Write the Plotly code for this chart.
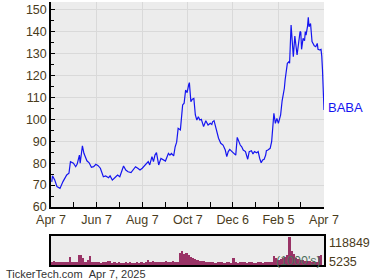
import plotly.graph_objects as go

# ---- data ----
price_dates = [
 "2024-04-08","2024-04-09","2024-04-12","2024-04-15","2024-04-19","2024-04-23","2024-04-28","2024-05-01",
 "2024-05-03","2024-05-07","2024-05-10","2024-05-12","2024-05-15","2024-05-16","2024-05-19","2024-05-21",
 "2024-05-25","2024-05-28","2024-05-31","2024-06-03","2024-06-06","2024-06-09","2024-06-12","2024-06-16",
 "2024-06-19","2024-06-23","2024-06-25","2024-06-28","2024-07-02","2024-07-05","2024-07-08","2024-07-13",
 "2024-07-16","2024-07-19","2024-07-23","2024-07-26","2024-07-29","2024-08-01","2024-08-04","2024-08-07",
 "2024-08-11","2024-08-13","2024-08-15","2024-08-17","2024-08-20","2024-08-22","2024-08-24","2024-08-26",
 "2024-08-29","2024-09-01","2024-09-04","2024-09-07","2024-09-11","2024-09-13","2024-09-15","2024-09-18",
 "2024-09-20","2024-09-22","2024-09-24","2024-09-27","2024-09-30","2024-10-02","2024-10-04","2024-10-06",
 "2024-10-08","2024-10-09","2024-10-11","2024-10-13","2024-10-15","2024-10-17","2024-10-19","2024-10-21",
 "2024-10-23","2024-10-25","2024-10-28","2024-10-31","2024-11-03","2024-11-06","2024-11-08","2024-11-09",
 "2024-11-11","2024-11-13","2024-11-15","2024-11-17","2024-11-20","2024-11-23","2024-11-26","2024-11-28",
 "2024-11-30","2024-12-02","2024-12-05","2024-12-08","2024-12-10","2024-12-12","2024-12-14","2024-12-16",
 "2024-12-18","2024-12-20","2024-12-23","2024-12-25","2024-12-26","2024-12-28","2024-12-31","2025-01-02",
 "2025-01-04","2025-01-07","2025-01-09","2025-01-11","2025-01-13","2025-01-15","2025-01-17","2025-01-19",
 "2025-01-20","2025-01-22","2025-01-25","2025-01-27","2025-01-28","2025-01-30","2025-02-01","2025-02-03",
 "2025-02-05","2025-02-06","2025-02-08","2025-02-10","2025-02-12","2025-02-13","2025-02-14","2025-02-15",
 "2025-02-17","2025-02-19","2025-02-20","2025-02-22","2025-02-24","2025-02-25","2025-02-27","2025-03-01",
 "2025-03-02","2025-03-04","2025-03-06","2025-03-07","2025-03-08","2025-03-10","2025-03-12","2025-03-13",
 "2025-03-14","2025-03-16","2025-03-17","2025-03-18","2025-03-20","2025-03-22","2025-03-23","2025-03-25",
 "2025-03-27","2025-03-29","2025-03-30","2025-04-01","2025-04-03","2025-04-04","2025-04-05","2025-04-07",
]
price_values = [
 71.5,74.2,72.3,69.3,68.5,71.6,74.6,75.4,
 80.7,80.0,78.4,79.6,83.7,80.0,87.9,84.5,
 81.1,80.2,78.1,78.4,79.5,78.9,77.7,73.8,
 74.2,73.4,74.2,72.3,73.6,74.6,73.8,78.7,
 76.9,76.1,75.7,76.9,78.4,77.7,76.9,77.7,
 79.2,80.0,80.7,79.2,83.0,80.7,83.7,84.8,
 79.2,82.2,81.5,81.0,84.5,83.7,84.5,83.3,
 87.5,89.6,95.9,95.2,106.6,107.4,113.4,112.2,
 115.7,116.8,108.1,109.2,109.6,102.0,99.7,101.2,
 99.7,100.0,96.7,99.4,97.4,98.2,97.7,98.9,
 99.4,96.7,92.9,91.4,89.1,88.3,86.0,83.0,
 85.3,86.3,85.3,84.5,83.7,91.8,89.8,88.3,
 87.5,86.0,85.3,83.3,81.8,85.3,85.7,84.2,
 85.3,84.8,85.3,82.2,80.2,81.5,81.8,83.7,
 85.7,86.0,86.8,89.8,95.2,102.8,98.2,100.5,
 98.2,100.0,102.0,108.5,111.9,114.2,118.0,121.0,
 125.6,126.3,125.6,143.1,133.2,128.6,138.1,132.5,
 129.4,134.7,140.1,139.8,132.0,137.0,135.9,140.1,
 138.5,142.6,146.6,142.3,143.8,135.5,134.7,133.6,
 133.2,134.7,132.0,131.7,132.0,128.9,122.6,104.3,
]

volume_start = "2024-04-08"
volume_step_days = 3
volume_k = [
 12,15,14,12,11,12,13,12,34,12,11,12,40,42,30,14,
 20,36,13,12,14,11,10,13,12,18,17,10,11,10,12,9,
 10,11,10,12,9,10,11,10,12,10,14,22,14,18,12,13,
 11,12,14,16,12,13,15,12,14,50,57,48,52,40,35,30,
 25,20,18,15,16,12,13,11,12,10,12,11,13,10,12,11,
 9,30,12,10,11,12,13,10,12,11,9,10,12,11,10,13,
 12,11,14,36,28,20,25,30,35,40,118.849,60,45,28,25,22,
 20,18,15,16,14,15,13,38,40,
]
volume_max = 118849
volume_min = 5235

major_tick_dates = ["2024-04-07","2024-06-07","2024-08-07","2024-10-07","2024-12-06","2025-02-05","2025-04-07"]
major_tick_text = ["Apr 7","Jun 7","Aug 7","Oct 7","Dec 6","Feb 5","Apr 7"]
minor_tick_dates = ["2024-05-07","2024-07-07","2024-09-07","2024-11-06","2025-01-05","2025-03-07"]
price_ticks = [60,70,80,90,100,110,120,130,140,150]
ticker = "BABA"
footer = "TickerTech.com&nbsp;&nbsp;Apr 7, 2025"

# ---- figure ----
import pandas as pd
vol_dates = pd.date_range(volume_start, periods=len(volume_k), freq=f"{volume_step_days}D")
vol_values = [v * 1000 for v in volume_k]

W, H = 380, 280
L, R = 51, 324
FONT = "Liberation Sans, Arial, sans-serif"
TXT = "#4a3c1c"
BG = "#ececec"
GRID = "#d9d9d9"

fig = go.Figure()
fig.add_trace(go.Scatter(x=price_dates, y=price_values, mode="lines",
                         line=dict(color="#1515f0", width=1.2), xaxis="x", yaxis="y",
                         hoverinfo="skip"))
fig.add_trace(go.Bar(x=vol_dates, y=vol_values, marker=dict(color="#993366", line=dict(width=0)),
                     width=volume_step_days * 86400000, xaxis="x2", yaxis="y2", hoverinfo="skip"))

xrange = ["2024-04-07", "2025-04-07"]
fig.update_layout(
    width=W, height=H, margin=dict(l=0, r=0, t=0, b=0, autoexpand=False),
    paper_bgcolor="white", plot_bgcolor=BG, showlegend=False, bargap=0,
    font=dict(family=FONT, size=12, color=TXT),
    xaxis=dict(domain=[L / W, R / W], range=xrange, type="date", automargin=False,
               tickmode="array", tickvals=major_tick_dates, ticktext=major_tick_text,
               ticks="inside", ticklen=5, tickcolor="black", tickwidth=1,
               showgrid=True, gridcolor=GRID, gridwidth=1,
               showline=True, linecolor="black", linewidth=1.5,
               tickfont=dict(size=12.5, color=TXT),
               minor=dict(tickmode="array", tickvals=minor_tick_dates, ticks="inside",
                          ticklen=5, tickcolor="black", showgrid=False),
               zeroline=False, anchor="y"),
    yaxis=dict(domain=[(H - 207) / H, (H - 2) / H], range=[60, 153.6], automargin=False,
               tickmode="array", tickvals=price_ticks,
               ticks="inside", ticklen=4, tickcolor="black",
               showgrid=True, gridcolor=GRID, gridwidth=1,
               showline=True, linecolor="black", linewidth=1.5,
               tickfont=dict(size=12.5, color=TXT),
               minor=dict(dtick=5, tick0=55, ticks="inside", ticklen=3, tickcolor="black", showgrid=False),
               zeroline=False, anchor="x"),
    xaxis2=dict(domain=[L / W, R / W], range=xrange, type="date", showticklabels=False, automargin=False,
                ticks="", showgrid=False, showline=True, mirror=True, linecolor="black",
                linewidth=1.5, zeroline=False, anchor="y2"),
    yaxis2=dict(domain=[(H - 265) / H, (H - 236) / H], range=[0, volume_max * 1.02], automargin=False,
                showticklabels=False, ticks="", showgrid=False, showline=True, mirror=True,
                linecolor="black", linewidth=1.5, zeroline=False, anchor="x2"),
)

fig.add_annotation(x=(R + 2) / W, y=(H - 107.5) / H, xref="paper", yref="paper", text=ticker,
                   showarrow=False, xanchor="left", yanchor="middle",
                   font=dict(family=FONT, size=13, color="#1515f0"))
fig.add_annotation(x=(R + 3) / W, y=(H - 242.5) / H, xref="paper", yref="paper", text=f"{volume_max}",
                   showarrow=False, xanchor="left", yanchor="middle", font=dict(size=12.5, color=TXT))
fig.add_annotation(x=(R + 3) / W, y=(H - 261.5) / H, xref="paper", yref="paper", text=f"{volume_min}",
                   showarrow=False, xanchor="left", yanchor="middle", font=dict(size=12.5, color=TXT))
fig.add_annotation(x=(R - 1) / W, y=(H - 261) / H, xref="paper", yref="paper", text="(1000's)",
                   showarrow=False, xanchor="right", yanchor="middle",
                   font=dict(size=12.5, color="#4f6f5c"))
fig.add_annotation(x=4 / W, y=(H - 274) / H, xref="paper", yref="paper", text=footer,
                   showarrow=False, xanchor="left", yanchor="middle",
                   font=dict(size=11, color="#333333"))

fig.write_html("out.html")
